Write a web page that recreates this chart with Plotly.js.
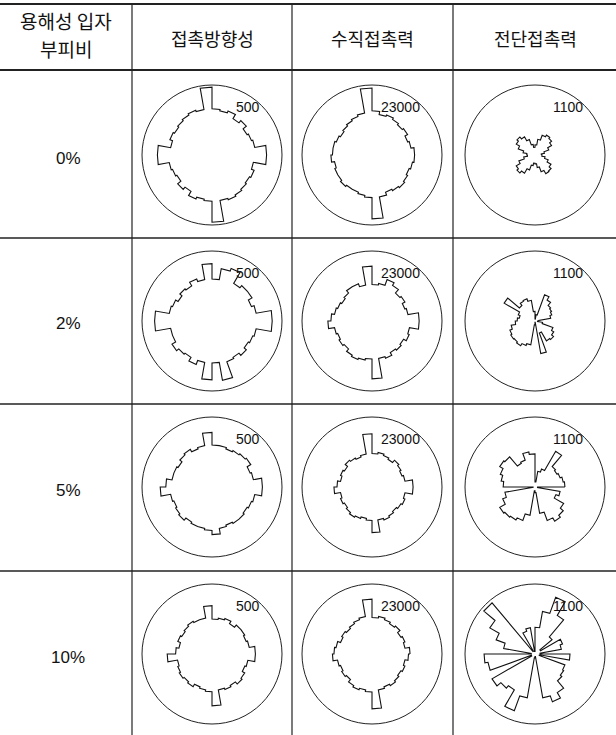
<!DOCTYPE html>
<html><head><meta charset="utf-8">
<script src="https://cdn.plot.ly/plotly-3.0.1.min.js"></script>
<style>html,body{margin:0;padding:0;background:#fff}#chart{width:616px;height:735px}</style>
</head><body><div id="chart"></div>
<script>
// ---- data ----
const cornerHeader = ['용해성 입자', '부피비'];
const colHeaders = ['접촉방향성', '수직접촉력', '전단접촉력'];
const rowLabels = ['0%', '2%', '5%', '10%'];
const scaleMax = [500, 23000, 1100];
const scaleLabels = ['500', '23000', '1100'];
const binWidthDeg = 10; // 36 bins, bin i covers [10i, 10i+10] deg, CCW from east

// contact orientation (counts)
const orient0  = [390,310,300,290,320,300,335,320,330,485,330,340,330,320,310,320,300,390,390,310,300,290,320,300,335,320,330,480,330,340,330,320,310,320,300,390];
const orient2  = [430,320,300,330,330,310,400,380,300,410,300,320,290,300,280,300,310,410,410,300,300,330,310,300,330,300,420,300,430,310,300,320,300,310,320,430];
const orient5  = [360,300,290,320,310,300,290,300,300,390,300,290,310,300,280,290,290,330,370,300,290,300,310,290,300,300,310,340,300,290,300,300,290,300,310,360];
const orient10 = [310,270,260,270,270,250,270,260,250,345,260,260,270,260,250,260,240,260,320,250,260,270,260,270,250,260,270,370,260,270,260,280,270,250,260,310];
// normal contact force
const normal0  = [14000,13000,12500,13500,13000,13500,14000,13500,14500,22000,14000,13500,13000,12500,12000,12500,13000,13000,13500,12500,13000,13000,13500,13000,13000,13500,14000,21000,14000,13000,13500,14000,13500,13000,13500,14000];
const normal2  = [15500,12000,11500,12500,12000,13500,14500,12500,12000,18000,12000,13000,13000,12000,11500,12000,12500,13500,14500,12500,12000,12500,12000,13000,13500,13000,12500,19000,12500,13000,12000,12500,12000,13000,12500,15500];
const normal5  = [13500,11000,10500,11000,11500,10500,11000,11500,11000,17500,11000,10500,11000,11500,10500,11000,10500,11500,12500,10500,11000,10500,11000,11500,11000,10500,11000,15000,11000,11500,11000,10500,11000,11500,11000,13500];
const normal10 = [12500,11000,11500,11000,12000,11500,12000,12500,12000,18000,12500,12000,11500,11000,11500,11000,12000,12500,13000,11500,11000,11500,11000,12000,12500,12000,12500,18000,12000,11500,12000,11500,11000,11500,11000,12000];
// shear contact force
const shear0  = [100,150,230,300,340,360,330,250,160,120,170,260,330,370,340,280,190,130,120,180,270,340,370,330,250,170,130,140,200,280,340,330,290,220,160,110];
const shear2  = [60,250,280,300,320,380,440,100,30,150,330,370,360,320,560,280,250,280,310,380,420,440,430,450,410,380,60,20,520,200,360,380,340,300,120,40];
const shear5  = [470,450,420,400,420,650,300,250,80,520,560,450,430,620,640,580,540,500,30,480,540,640,620,600,560,450,60,90,420,560,620,580,520,350,400,40];
const shear10 = [80,420,460,100,350,700,950,680,420,40,420,380,50,1050,820,650,500,60,800,750,60,780,700,650,950,700,60,40,700,800,700,550,520,500,70,550];

const grid = [
  [orient0, normal0, shear0],
  [orient2, normal2, shear2],
  [orient5, normal5, shear5],
  [orient10, normal10, shear10]
];

// ---- layout geometry (pixels) ----
const W = 616, H = 735;
const colX = [212, 372, 535];
const rowY = [155, 321, 487, 654];
const R = 70;
const px = x => x / W;
const py = y => 1 - y / H;

const FONT_KR = '"Noto Sans CJK KR", "Noto Sans", sans-serif';
const FONT_NUM = '"Liberation Sans", Arial, sans-serif';

const traces = [];
const layout = {
  width: W, height: H,
  margin: {l: 0, r: 0, t: 0, b: 0},
  paper_bgcolor: '#fff',
  showlegend: false,
  annotations: [],
  shapes: []
};

function stepOutline(vals) {
  const r = [], th = [];
  vals.forEach((v, i) => {
    r.push(v, v);
    th.push(i * binWidthDeg, (i + 1) * binWidthDeg);
  });
  r.push(vals[0]); th.push(0);
  return {r, th};
}

let k = 0;
for (let ri = 0; ri < 4; ri++) {
  for (let ci = 0; ci < 3; ci++) {
    k++;
    const name = k === 1 ? 'polar' : 'polar' + k;
    const s = stepOutline(grid[ri][ci]);
    traces.push({
      type: 'scatterpolar', mode: 'lines',
      r: s.r, theta: s.th, subplot: name,
      line: {color: '#111', width: 1.1},
      hoverinfo: 'skip'
    });
    const cx = colX[ci], cy = rowY[ri];
    layout[name] = {
      domain: {x: [px(cx - R), px(cx + R)], y: [py(cy + R), py(cy - R)]},
      bgcolor: 'rgba(0,0,0,0)',
      radialaxis: {range: [0, scaleMax[ci]], visible: false},
      angularaxis: {
        showline: true, linecolor: '#222', linewidth: 1,
        showgrid: false, showticklabels: false, ticks: '',
        rotation: 0, direction: 'counterclockwise'
      }
    };
    const a = 47 * Math.PI / 180;
    layout.annotations.push({
      xref: 'paper', yref: 'paper',
      x: px(cx + R * Math.cos(a) + 2), y: py(cy - R * Math.sin(a) + 3),
      xanchor: 'right', yanchor: 'middle', showarrow: false,
      text: scaleLabels[ci],
      font: {family: FONT_NUM, size: 14, color: '#111'}
    });
  }
}

// table lines
const vLines = [132, 292, 453];
vLines.forEach(x => layout.shapes.push({type: 'line', xref: 'paper', yref: 'paper',
  x0: px(x), x1: px(x), y0: py(4), y1: py(735), line: {color: '#222', width: 1.2}}));
[[4, 2], [70, 2.2], [238, 1.3], [404, 1.3], [571, 1.3]].forEach(([y, w]) =>
  layout.shapes.push({type: 'line', xref: 'paper', yref: 'paper',
    x0: 0, x1: 1, y0: py(y), y1: py(y), line: {color: '#222', width: w}}));

// header texts
layout.annotations.push({xref: 'paper', yref: 'paper', x: px(66), y: py(20),
  text: cornerHeader[0], showarrow: false, xanchor: 'center', yanchor: 'middle',
  font: {family: FONT_KR, size: 19, color: '#111'}});
layout.annotations.push({xref: 'paper', yref: 'paper', x: px(66), y: py(48),
  text: cornerHeader[1], showarrow: false, xanchor: 'center', yanchor: 'middle',
  font: {family: FONT_KR, size: 19, color: '#111'}});
colHeaders.forEach((t, i) => layout.annotations.push({xref: 'paper', yref: 'paper',
  x: px(colX[i]), y: py(38), text: t, showarrow: false, xanchor: 'center', yanchor: 'middle',
  font: {family: FONT_KR, size: 18, color: '#111'}}));
rowLabels.forEach((t, i) => layout.annotations.push({xref: 'paper', yref: 'paper',
  x: px(68), y: py(rowY[i] + 3), text: t, showarrow: false, xanchor: 'center', yanchor: 'middle',
  font: {family: FONT_NUM, size: 17, color: '#111'}}));

Plotly.newPlot('chart', traces, layout, {staticPlot: true, displayModeBar: false});
</script></body></html>
